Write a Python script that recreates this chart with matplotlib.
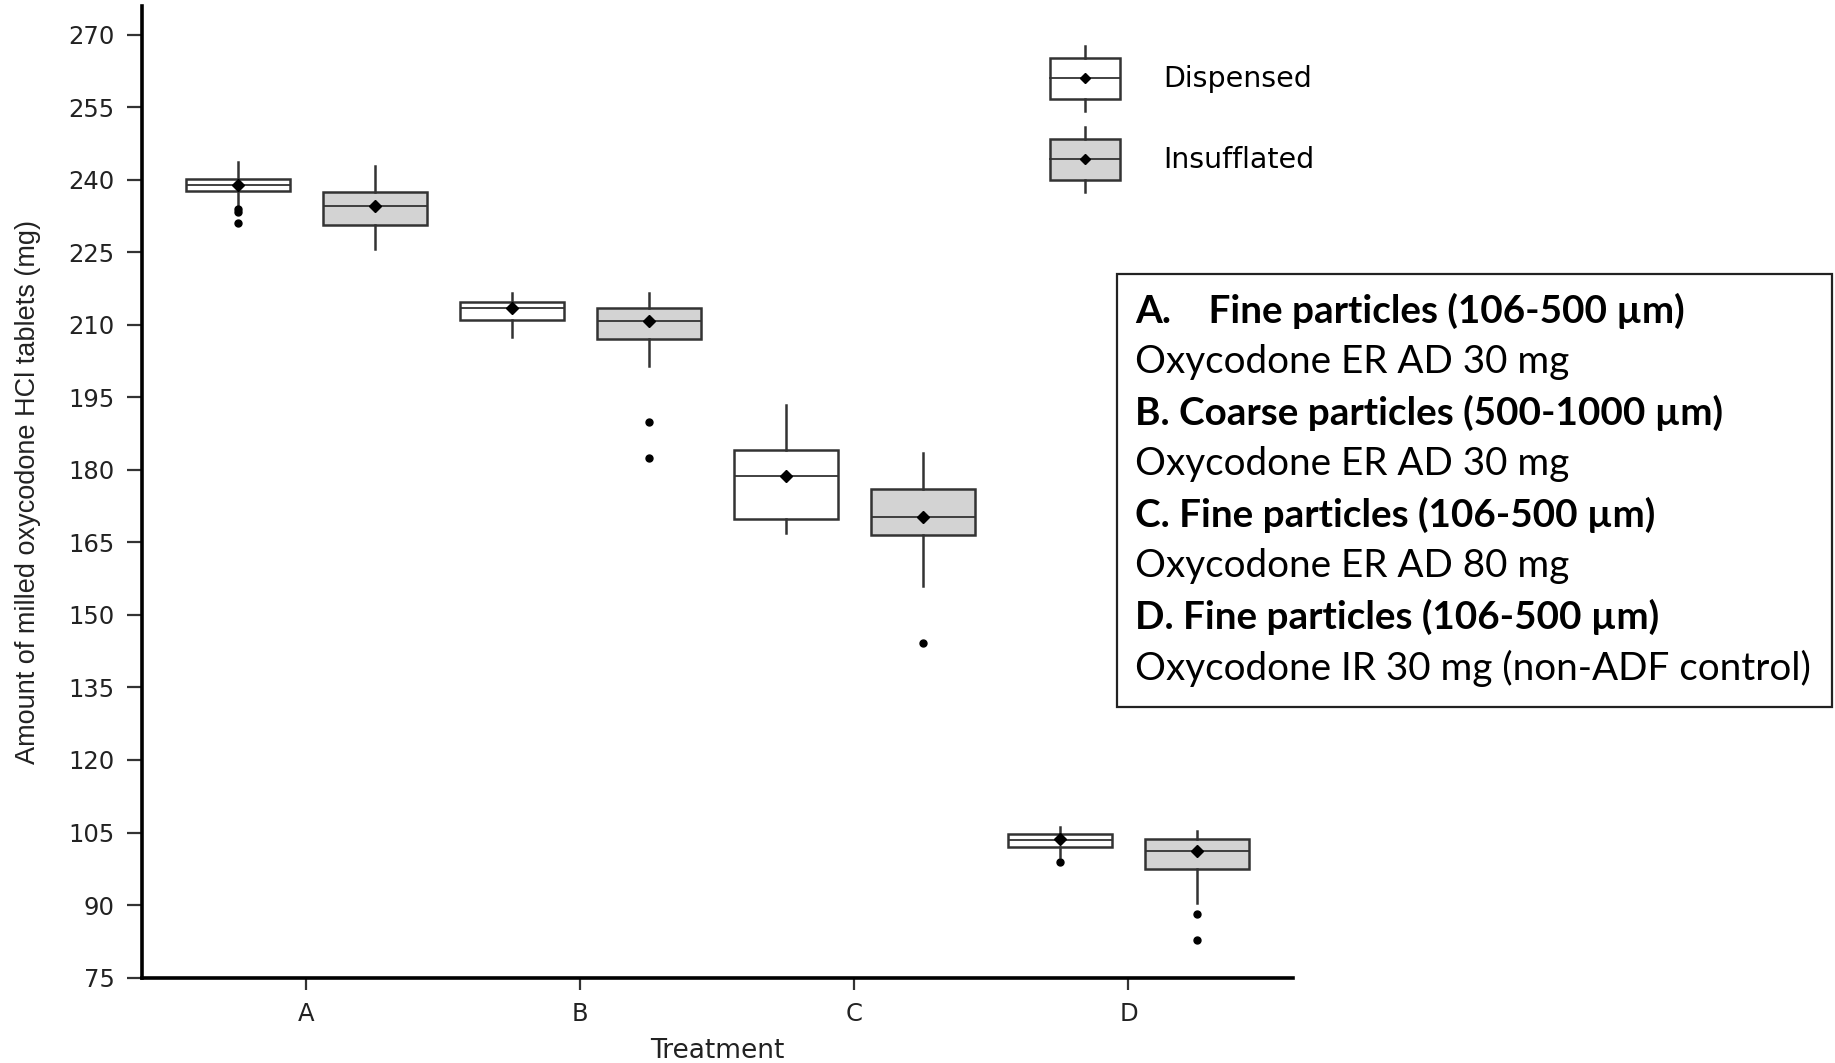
import matplotlib
matplotlib.use('Agg')
import matplotlib.pyplot as plt
from matplotlib.legend_handler import HandlerBase
from matplotlib.patches import Patch, Rectangle
from matplotlib.lines import Line2D

# valeurs (mg)
treatments = ['A', 'B', 'C', 'D']
groups = ['Dispensed', 'Insufflated']

disp_whislo = [234.6, 207.6, 166.9, 99.9]
disp_q1 = [237.7, 211.0, 169.8, 102.1]
disp_med = [239.0, 213.6, 178.8, 103.5]
disp_q3 = [240.2, 214.8, 184.1, 104.6]
disp_whishi = [243.7, 216.7, 193.5, 106.1]
disp_mean = [238.9, 213.6, 178.8, 103.6]
disp_fliers = [[233.9, 233.3, 231.1], [], [], [98.8]]

ins_whislo = [225.7, 201.4, 156.0, 90.5]
ins_q1 = [230.6, 207.0, 166.6, 97.5]
ins_med = [234.7, 210.8, 170.3, 101.2]
ins_q3 = [237.4, 213.5, 176.1, 103.6]
ins_whishi = [242.8, 216.7, 183.5, 105.4]
ins_mean = [234.7, 210.8, 170.3, 101.2]
ins_fliers = [[], [190.0, 182.4], [144.3], [88.1, 82.7]]

yticks = list(range(75, 271, 15))

info_lines = [
    ('A.    Fine particles (106-500 µm)', 'bold'),
    ('Oxycodone ER AD 30 mg', 'normal'),
    ('B. Coarse particles (500-1000 µm)', 'bold'),
    ('Oxycodone ER AD 30 mg', 'normal'),
    ('C. Fine particles (106-500 µm)', 'bold'),
    ('Oxycodone ER AD 80 mg', 'normal'),
    ('D. Fine particles (106-500 µm)', 'bold'),
    ('Oxycodone IR 30 mg (non-ADF control)', 'normal'),
]

EDGE = '#333333'
FILLS = ['white', '#d3d3d3']


def make_stats(whislo, q1, med, q3, whishi, mean, fliers):
    return [dict(whislo=whislo[i], q1=q1[i], med=med[i], q3=q3[i], whishi=whishi[i],
                 mean=mean[i], fliers=fliers[i]) for i in range(len(whislo))]


class BoxKey(HandlerBase):
    # petite boite a moustaches pour la legende
    def create_artists(self, legend, orig_handle, xdescent, ydescent, width, height, fontsize, trans):
        x0, y0 = -xdescent, -ydescent
        cx = x0 + width / 2
        bh = height * 0.63
        b0 = y0 + (height - bh) / 2
        box = Rectangle((x0, b0), width, bh, facecolor=orig_handle.get_facecolor(),
                        edgecolor=EDGE, lw=1.8, transform=trans)
        up = Line2D([cx, cx], [b0 + bh, y0 + height], color=EDGE, lw=1.8, transform=trans)
        down = Line2D([cx, cx], [y0, b0], color=EDGE, lw=1.8, transform=trans)
        mid = Line2D([x0, x0 + width], [b0 + bh / 2, b0 + bh / 2], color=EDGE, lw=1.3, transform=trans)
        dot = Line2D([cx], [b0 + bh / 2], marker='D', color='black', markersize=5.5,
                     linestyle='none', transform=trans)
        return [box, up, down, mid, dot]


fig = plt.figure(figsize=(18.35, 10.63), dpi=100)
ax = fig.add_axes([0.0772, 0.0804, 0.6274, 0.9141])

all_stats = [
    make_stats(disp_whislo, disp_q1, disp_med, disp_q3, disp_whishi, disp_mean, disp_fliers),
    make_stats(ins_whislo, ins_q1, ins_med, ins_q3, ins_whishi, ins_mean, ins_fliers),
]
offsets = [-0.25, 0.25]
for stats, off, fill in zip(all_stats, offsets, FILLS):
    pos = [i + off for i in range(len(treatments))]
    ax.bxp(stats, positions=pos, widths=0.38, patch_artist=True, showmeans=True, showcaps=False,
           boxprops=dict(facecolor=fill, edgecolor=EDGE, linewidth=1.8),
           whiskerprops=dict(color=EDGE, linewidth=1.8),
           medianprops=dict(color=EDGE, linewidth=1.3),
           meanprops=dict(marker='D', markerfacecolor='black', markeredgecolor='black', markersize=6.5),
           flierprops=dict(marker='o', markerfacecolor='black', markeredgecolor='black', markersize=5))

ax.set_xlim(-0.6, 3.6)
ax.set_ylim(75, 276)
ax.set_xticks(range(len(treatments)))
ax.set_xticklabels(treatments)
ax.set_yticks(yticks)

for s in ['top', 'right']:
    ax.spines[s].set_visible(False)
for s in ['left', 'bottom']:
    ax.spines[s].set_linewidth(2.6)
    ax.spines[s].set_color('black')

ax.tick_params(axis='y', length=10.5, width=1.6, color=EDGE, pad=9, labelsize=17.5, labelcolor='#222222')
ax.tick_params(axis='x', length=8.5, width=1.6, color=EDGE, pad=9, labelsize=17.5, labelcolor='#222222')

ax.set_ylabel('Amount of milled oxycodone HCl tablets (mg)', fontsize=19.5, family='Liberation Sans',
              color='#222222')
ax.yaxis.set_label_coords(-0.0875, 0.5)
ax.set_xlabel('Treatment', fontsize=19, color='#222222')
ax.xaxis.set_label_coords(0.5, -0.062)

handles = [Patch(facecolor=f) for f in FILLS]
fig.legend(handles, groups, handler_map={Patch: BoxKey()}, loc='upper left',
           bbox_to_anchor=(1050 / 1835, 1 - 46 / 1063), bbox_transform=fig.transFigure,
           frameon=False, fontsize=20.5, handlelength=2.46, handleheight=3.11,
           labelspacing=0.58, handletextpad=1.5, borderpad=0, borderaxespad=0)

# encadre explicatif
fig.patches.append(Rectangle((1117 / 1835, 1 - 707 / 1063), (1832 - 1117) / 1835, (707 - 274) / 1063,
                             transform=fig.transFigure, facecolor='white', edgecolor='#222222',
                             linewidth=1.6))
for k, (txt, w) in enumerate(info_lines):
    fig.text(1135 / 1835, 1 - (311 + 51 * k) / 1063, txt, fontsize=27.8, family='Lato',
             fontweight=w, va='center', ha='left', color='black')

fig.savefig('out.png', dpi=100)
